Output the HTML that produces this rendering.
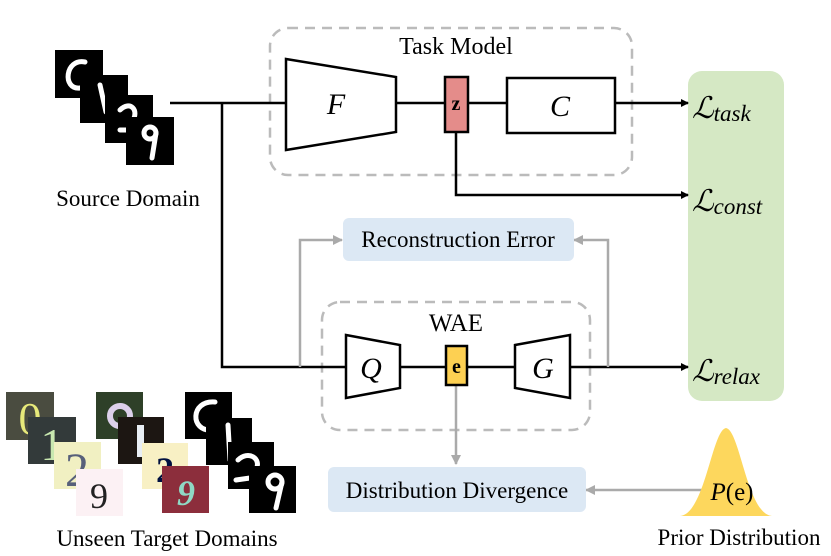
<!DOCTYPE html>
<html><head><style>body{margin:0;background:#fff}svg{display:block}text{font-family:"Liberation Serif",serif}</style></head><body>
<svg width="831" height="556" viewBox="0 0 831 556" xmlns="http://www.w3.org/2000/svg">
<defs>
<marker id="ab" markerWidth="8" markerHeight="8" refX="7" refY="4" orient="auto" markerUnits="userSpaceOnUse"><path d="M0,0 L8,4 L0,8 z" fill="#000"/></marker>
<marker id="ag" markerWidth="10" markerHeight="10" refX="9" refY="5" orient="auto" markerUnits="userSpaceOnUse"><path d="M0,0 L10,5 L0,10 z" fill="#aaa"/></marker>
</defs>
<rect x="688" y="71" width="96" height="330" rx="14" fill="#d5e8c4"/>
<rect x="270" y="28" width="362" height="147" rx="18" fill="none" stroke="#bbb" stroke-width="2.5" stroke-dasharray="10,7"/>
<text x="456" y="54" font-size="24" text-anchor="middle">Task Model</text>
<rect x="322" y="302" width="268" height="128" rx="18" fill="none" stroke="#bbb" stroke-width="2.5" stroke-dasharray="10,7"/>
<text x="456" y="331" font-size="25" text-anchor="middle">WAE</text>
<g stroke="#000" stroke-width="2.5" fill="none">
<path d="M170,103 H286"/>
<path d="M222,103 V367 H345"/>
<path d="M396,103 H445"/>
<path d="M468,103 H507"/>
<path d="M615,103 H688" marker-end="url(#ab)"/>
<path d="M456,132 V195 H688" marker-end="url(#ab)"/>
<path d="M400,367 H446"/>
<path d="M467,367 H515"/>
<path d="M570,367 H688" marker-end="url(#ab)"/>
</g>
<g stroke="#aaa" stroke-width="2.5" fill="none">
<path d="M300,367 V240 H342" marker-end="url(#ag)"/>
<path d="M608,367 V240 H574" marker-end="url(#ag)"/>
<path d="M456,385 V464" marker-end="url(#ag)"/>
<path d="M705,490 H586" marker-end="url(#ag)"/>
</g>
<polygon points="286,59 396,77 396,132 286,150" fill="#fff" stroke="#000" stroke-width="2.5"/>
<text x="336" y="114" font-size="30" font-style="italic" text-anchor="middle">F</text>
<rect x="445" y="77" width="23" height="55" fill="#e48c8a" stroke="#000" stroke-width="2.5"/>
<text x="456" y="110" font-size="20" font-weight="bold" text-anchor="middle">z</text>
<rect x="507" y="78" width="108" height="55" fill="#fff" stroke="#000" stroke-width="2.5"/>
<text x="560" y="116" font-size="30" font-style="italic" text-anchor="middle">C</text>
<polygon points="346,335 400,345 400,388 346,398" fill="#fff" stroke="#000" stroke-width="2.5"/>
<text x="371" y="378" font-size="30" font-style="italic" text-anchor="middle">Q</text>
<rect x="446" y="346" width="21" height="39" fill="#fdd052" stroke="#000" stroke-width="2.5"/>
<text x="456.5" y="373" font-size="20" font-weight="bold" text-anchor="middle">e</text>
<polygon points="515,345 570,335 570,398 515,388" fill="#fff" stroke="#000" stroke-width="2.5"/>
<text x="543" y="378" font-size="30" font-style="italic" text-anchor="middle">G</text>
<rect x="343" y="218" width="231" height="43" rx="6" fill="#dce8f4"/>
<text x="458" y="247" font-size="23" text-anchor="middle">Reconstruction Error</text>
<rect x="328" y="467" width="258" height="45" rx="6" fill="#dce8f4"/>
<text x="457" y="498" font-size="23" text-anchor="middle">Distribution Divergence</text>
<path d="M680,516 C705,514 712,430 726,428 C740,430 747,514 772,516 Z" fill="#fdd75d"/>
<text x="732" y="500" font-size="25" text-anchor="middle"><tspan font-style="italic">P</tspan>(e)</text>
<text x="739" y="545" font-size="23" text-anchor="middle">Prior Distribution</text>
<text x="692" y="118" font-size="30" font-style="italic">ℒ<tspan font-size="23" dy="3">task</tspan></text>
<text x="692" y="211" font-size="30" font-style="italic">ℒ<tspan font-size="23" dy="3">const</tspan></text>
<text x="692" y="381" font-size="30" font-style="italic">ℒ<tspan font-size="23" dy="3">relax</tspan></text>
<g stroke="#fff" stroke-width="5" fill="none" stroke-linecap="round">
<rect x="55" y="50" width="48" height="48" fill="#000" stroke="none"/>
<path d="M85,62 C65,58 62,90 80,88"/>
<rect x="80" y="75" width="48" height="48" fill="#000" stroke="none"/>
<path d="M100,85 L106,112"/>
<rect x="105" y="95" width="48" height="48" fill="#000" stroke="none"/>
<path d="M120,110 C130,100 140,110 132,122 M120,130 L130,130"/>
<rect x="126" y="117" width="48" height="48" fill="#000" stroke="none"/>
<circle cx="150" cy="133" r="6"/><path d="M156,133 L152,158"/>
</g>
<text x="128" y="206" font-size="23" text-anchor="middle">Source Domain</text>
<rect x="6" y="392" width="48" height="48" fill="#4a4c40"/><text x="30" y="434" font-size="46" fill="#e7e97a" text-anchor="middle" font-family="Liberation Sans">0</text>
<rect x="28" y="417" width="48" height="47" fill="#333a3a"/><text x="52" y="460" font-size="46" fill="#c9e8b0" text-anchor="middle" font-family="Liberation Sans">1</text>
<rect x="54" y="442" width="47" height="47" fill="#f1f0c2"/><text x="77" y="486" font-size="48" fill="#57607a" text-anchor="middle" font-family="Liberation Sans">2</text>
<rect x="76" y="469" width="47" height="47" fill="#fcf1f4"/><text x="99" y="508" font-size="36" fill="#222" text-anchor="middle">9</text>
<rect x="96" y="392" width="47" height="47" fill="#2e4028"/><circle cx="120" cy="416" r="10" fill="none" stroke="#dcd0ea" stroke-width="6"/>
<rect x="118" y="417" width="46" height="47" fill="#1c1612"/><rect x="137" y="425" width="7" height="32" fill="#e8eef4"/>
<rect x="142" y="443" width="46" height="46" fill="#f8f0c4"/><text x="165" y="482" font-size="36" fill="#001040" font-weight="bold" text-anchor="middle" font-family="Liberation Sans">2</text>
<rect x="162" y="466" width="47" height="47" fill="#8c2e3c"/><text x="186" y="505" font-size="36" fill="#8fd8c4" font-weight="bold" font-style="italic" text-anchor="middle" font-family="Liberation Sans">9</text>
<g stroke="#fff" stroke-width="5" fill="none" stroke-linecap="round">
<rect x="185" y="392" width="47" height="47" fill="#000" stroke="none"/><path d="M215,402 C190,400 190,432 212,430"/>
<rect x="206" y="418" width="46" height="47" fill="#000" stroke="none"/><path d="M228,425 L230,460"/>
<rect x="228" y="442" width="46" height="47" fill="#000" stroke="none"/><path d="M238,460 C248,450 262,458 256,470 M236,480 L250,478"/>
<rect x="249" y="466" width="47" height="47" fill="#000" stroke="none"/><circle cx="275" cy="482" r="7"/><path d="M282,482 L276,508"/>
</g>
<text x="167" y="546" font-size="23" text-anchor="middle">Unseen Target Domains</text>
</svg>
</body></html>
